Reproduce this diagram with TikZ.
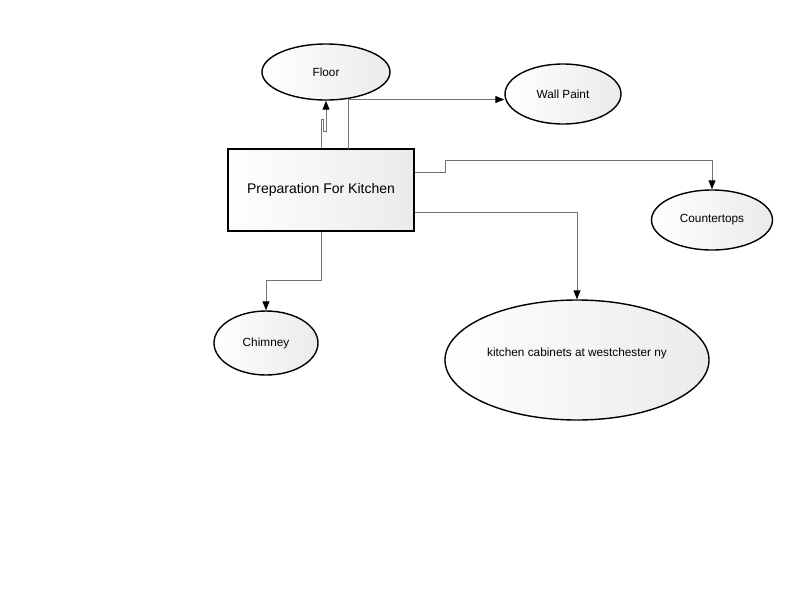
\documentclass[tikz,border=0pt]{standalone}
\usepackage{fontspec}
\setmainfont{Liberation Sans}
\usetikzlibrary{arrows.meta,shapes.geometric}
\begin{document}
\begin{tikzpicture}[x=1pt,y=-1pt,
  ell/.style={ellipse,draw=black,line width=1.4pt,left color=white,right color=black!8,inner sep=0pt,font=\fontsize{11.8}{13}\selectfont},
  boxnode/.style={rectangle,draw=black,line width=1.4pt,left color=white,right color=black!8,inner sep=0pt,minimum width=186pt,minimum height=82pt,font=\fontsize{14}{16}\selectfont},
  conn/.style={draw=black!55,line width=1pt},
  arr/.style={conn,arrows={-{Triangle[length=9pt,width=7pt,color=black]}}}
]
\useasboundingbox (0,0) rectangle (800,600);
\node[boxnode] (box) at (321,190) {Preparation For Kitchen};
\node[ell,minimum width=128pt,minimum height=56pt] (floor) at (326,72) {Floor};
\node[ell,minimum width=116pt,minimum height=60pt] (wall) at (563,94) {Wall Paint};
\node[ell,minimum width=121pt,minimum height=60pt] (counter) at (712,220) {Countertops};
\node[ell,minimum width=104pt,minimum height=64pt] (chim) at (266,343) {Chimney};
\node[ell,minimum width=264pt,minimum height=120pt,text depth=16pt] (cab) at (577,360) {kitchen cabinets at westchester ny};
% connectors
\draw[arr] (box.north) -- (321,119) -- (323,119) -- (323,131) -- (326,131) -- (floor.south);
\draw[arr] (348,149) -- (348,99.5) -- (wall.west |- 0,99.5);
\draw[arr] ([yshift=18pt]box.east) -- (445,172) -- (445,160) -- (712,160) -- (counter.north);
\draw[arr] ([yshift=-22pt]box.east) -- (577,212) -- (cab.north);
\draw[arr] (box.south) -- (321,280) -- (266,280) -- (chim.north);
\end{tikzpicture}
\end{document}
